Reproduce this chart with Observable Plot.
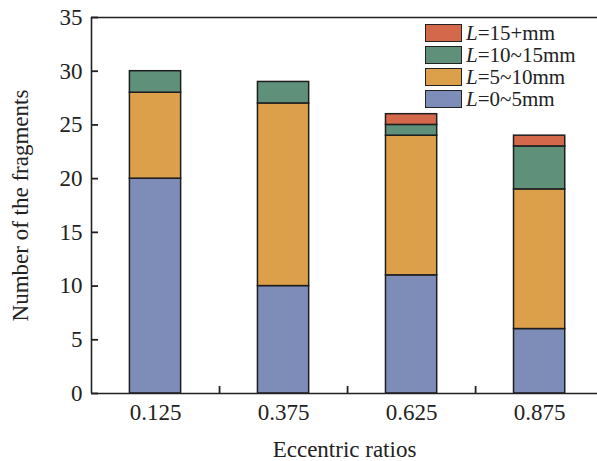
<!DOCTYPE html>
<html><head><meta charset="utf-8">
<script src="https://cdn.jsdelivr.net/npm/d3@7"></script>
<script src="https://cdn.jsdelivr.net/npm/@observablehq/plot@0.6"></script>
<style>
body{margin:0;background:#fff}
#wrap{position:relative;width:597px;height:461px;font-family:"Liberation Serif",serif;color:#222}
#legend{position:absolute;left:425px;top:22px;font-size:21px}
.item{display:flex;align-items:center;height:22px;white-space:nowrap}
.sw{box-sizing:border-box;width:37px;height:18px;border:1.6px solid #222;margin-right:4px}
.lab{display:inline-block;height:22px;line-height:22px;overflow:visible}
</style></head><body><div id="wrap"><div id="legend"></div></div>
<script>
const ratios = [0.125, 0.375, 0.625, 0.875];
const ratioLabels = ["0.125", "0.375", "0.625", "0.875"];
const seriesNames = ["L=0~5mm", "L=5~10mm", "L=10~15mm", "L=15+mm"];
const len0to5 = [20, 10, 11, 6];
const len5to10 = [8, 17, 13, 13];
const len10to15 = [2, 2, 1, 4];
const len15plus = [0, 0, 1, 1];
const seriesColors = ["#7e8db8", "#dca04b", "#5f917a", "#d3694a"];
const yTicks = [0, 5, 10, 15, 20, 25, 30, 35];
const minorTicks = [0.25, 0.5, 0.75];

const seriesValues = [len0to5, len5to10, len10to15, len15plus];
const rows = [];
ratios.forEach((r, i) => {
  let cum = 0;
  seriesValues.forEach((vals, s) => {
    const v = vals[i];
    if (v > 0) rows.push({x: r, series: seriesNames[s], y1: cum, y2: cum + v});
    cum += v;
  });
});
const halfW = 0.05;
const tickLen = 7;

const chart = Plot.plot({
  width: 597, height: 461,
  marginLeft: 91, marginRight: 0, marginTop: 17, marginBottom: 68,
  style: {fontFamily: "Liberation Serif, serif", fontSize: "23px", color: "#222", background: "#fff"},
  x: {domain: [0, 0.988]},
  y: {domain: [0, 35]},
  color: {domain: seriesNames, range: seriesColors},
  marks: [
    Plot.rect(rows, {x1: d => d.x - halfW, x2: d => d.x + halfW, y1: "y1", y2: "y2", fill: "series", stroke: "#1e1e1e", strokeWidth: 1.5}),
    Plot.axisY({ticks: yTicks, tickSize: 0, tickPadding: 9, fontSize: 23, label: "Number of the fragments", labelAnchor: "center", labelArrow: false, labelOffset: 80}),
    Plot.axisX({ticks: ratios, tickSize: 0, tickPadding: 10, fontSize: 23, tickFormat: (d, i) => ratioLabels[i], label: "Eccentric ratios", labelAnchor: "center", labelArrow: false, labelOffset: 63}),
    Plot.ruleY(yTicks, {y: d => d, x1: 0, x2: 0, insetRight: -tickLen, stroke: "#222", strokeWidth: 1.8}),
    Plot.ruleX(minorTicks, {x: d => d, y1: 0, y2: 0, insetTop: -tickLen, stroke: "#222", strokeWidth: 1.8}),
    Plot.ruleY([0, 35], {stroke: "#222", strokeWidth: 1.6}),
    Plot.ruleX([0], {stroke: "#222", strokeWidth: 1.6})
  ]
});
document.getElementById("wrap").prepend(chart);

const legend = document.getElementById("legend");
for (let s = seriesNames.length - 1; s >= 0; s--) {
  const item = document.createElement("div");
  item.className = "item";
  const sw = document.createElement("div");
  sw.className = "sw";
  sw.style.background = seriesColors[s];
  const lab = document.createElement("span");
  lab.className = "lab";
  const name = seriesNames[s];
  lab.innerHTML = "<i>" + name[0] + "</i>" + name.slice(1);
  item.appendChild(sw);
  item.appendChild(lab);
  legend.appendChild(item);
}
</script></body></html>
